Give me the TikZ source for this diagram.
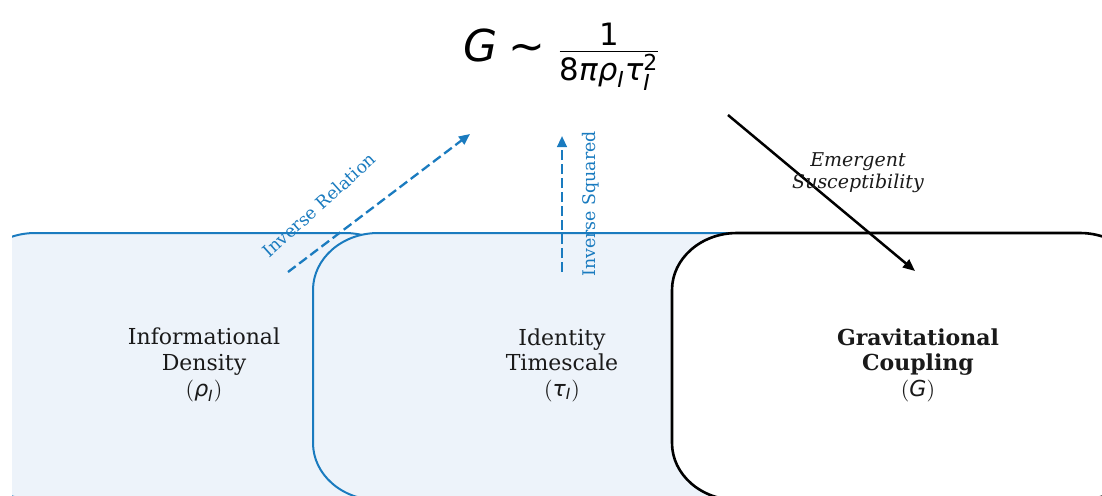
\documentclass[tikz,border=0pt]{standalone}
\usepackage{amsmath}
\usepackage{fontspec}
\setmainfont{DejaVu Serif}
\newfontfamily\dvs{DejaVu Sans}
\usetikzlibrary{arrows.meta}
\definecolor{lineblue}{HTML}{1A7BBF}
\definecolor{fillblue}{HTML}{EDF3FA}
\definecolor{txt}{HTML}{1A1A1A}
\newcommand\rbox[5]{\path[#1] ({#2+65},#3) -- ({#4-65},#3) .. controls ({#4-29.1},#3) and (#4,{#3+25.5}) .. (#4,{#3+57}) -- (#4,{#5-57}) .. controls (#4,{#5-25.5}) and ({#4-29.1},#5) .. ({#4-65},#5) -- ({#2+65},#5) .. controls ({#2+29.1},#5) and (#2,{#5-25.5}) .. (#2,{#5-57}) -- (#2,{#3+57}) .. controls (#2,{#3+25.5}) and ({#2+29.1},#3) .. ({#2+65},#3) -- cycle;}
\newcommand\sit[1]{\text{\dvs\itshape #1}}
\newcommand\srm[1]{\text{\dvs #1}}
\tikzset{
  bluebox/.style={draw=lineblue, fill=fillblue, line width=1pt},
  blackbox/.style={draw=black, fill=white, line width=1.3pt},
  boxlabel/.style={align=center, text=txt, font=\fontsize{11}{12.8}\selectfont, inner sep=0pt},
  dasharrow/.style={draw=lineblue, line width=1.15pt, dash pattern=on 4.8pt off 2.2pt, -{Triangle[length=5.5pt,width=4.8pt]}},
  solidarrow/.style={draw=black, line width=1.25pt, -{Triangle[length=6pt,width=5pt]}},
  bluelabel/.style={text=lineblue, inner sep=0pt, font=\fontsize{8.7}{10}\selectfont},
}
\begin{document}
\begin{tikzpicture}[x=0.5pt, y=-0.5pt]
\useasboundingbox (0,0) rectangle (1102,495);
\begin{scope}
\clip (12,0) rectangle (1102,495);
\rbox{bluebox}{-30}{233}{410}{500}
\rbox{bluebox}{313}{233}{800}{500}
\rbox{blackbox}{672}{233}{1145}{500}
\end{scope}

\node[boxlabel] (rho) at (204,365) {Informational\\Density\\{\dvs$(\sit{ρ}_{\sit{I}})$}};
\node[boxlabel] (tau) at (562,365) {Identity\\Timescale\\{\dvs$(\sit{τ}_{\sit{I}})$}};
\node[boxlabel, font=\fontsize{11}{12.8}\selectfont\bfseries] (grav) at (918,365) {Gravitational\\Coupling\\{\mdseries\dvs$(\sit{G})$}};

\node[inner sep=0pt, font=\fontsize{22}{26}\selectfont] (formula) at (562,57)
  {$\sit{G}\mathrel{\srm{∼}}\frac{\srm{1}}{\srm{8}\sit{π}\sit{ρ}_{\sit{I}}\sit{τ}_{\sit{I}}^{\srm{2}}}$};

\coordinate (r0) at (288,272);
\coordinate (r1) at (470,134);
\coordinate (s0) at (562,272);
\coordinate (s1) at (562,136);
\coordinate (e0) at (728,115);
\coordinate (e1) at (915,271);

\draw[dasharrow] (r0) -- (r1);
\draw[dasharrow] (s0) -- (s1);
\draw[solidarrow] (e0) -- (e1);

\node[bluelabel, rotate=42] (invrel) at (319,205) {Inverse Relation};
\node[bluelabel, rotate=90] (invsq) at (591,204) {Inverse Squared};
\node[align=center, text=txt, inner sep=0pt, font=\fontsize{9.5}{11}\selectfont\itshape] (emerg) at (858,173) {Emergent\\Susceptibility};
\end{tikzpicture}
\end{document}
